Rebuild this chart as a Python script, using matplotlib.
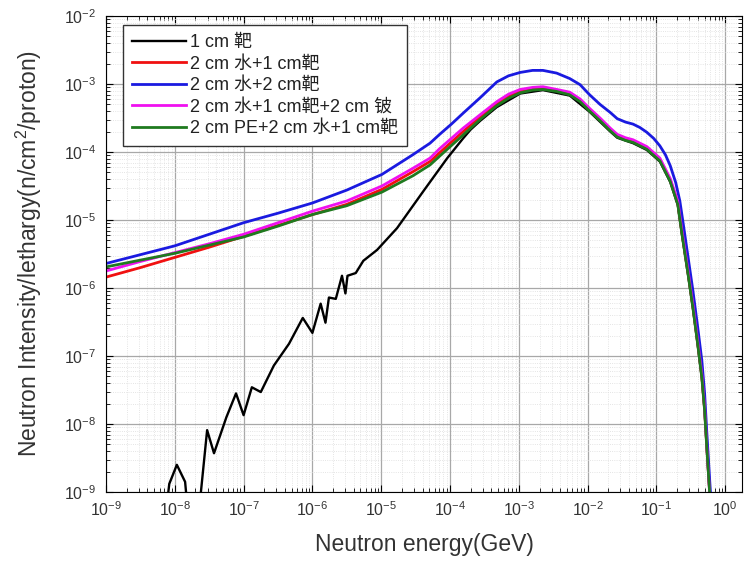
import numpy as np
import matplotlib
matplotlib.use('Agg')
import matplotlib.pyplot as plt
from matplotlib.ticker import LogLocator, NullFormatter

plt.rcParams['font.family'] = ['Liberation Sans', 'Noto Sans CJK SC', 'DejaVu Sans']
plt.rcParams['mathtext.fontset'] = 'custom'
plt.rcParams['mathtext.rm'] = 'Liberation Sans'
plt.rcParams['mathtext.default'] = 'regular'

# curves: log10(energy / GeV) and log10(intensity)
log_e_black = [-8.14, -8.08, -7.97, -7.85, -7.80, -7.66, -7.53, -7.43, -7.25, -7.11,
               -7.00, -6.88, -6.75, -6.56, -6.34, -6.14, -6.00, -5.88, -5.81, -5.76,
               -5.66, -5.57, -5.52, -5.49, -5.37, -5.26, -5.06, -4.77, -4.39, -4.04,
               -3.81, -3.70, -3.56, -3.32, -2.98, -2.65, -2.26, -1.97, -1.67, -1.57,
               -1.34, -1.14, -0.95, -0.80, -0.69, -0.63, -0.54, -0.47, -0.40, -0.34,
               -0.30, -0.27, -0.22, -0.19]
log_i_black = [-9.40, -8.88, -8.60, -8.85, -9.40, -9.40, -8.09, -8.43, -7.90, -7.55,
               -7.87, -7.46, -7.53, -7.14, -6.82, -6.44, -6.66, -6.23, -6.51, -6.14,
               -6.16, -5.82, -6.08, -5.82, -5.78, -5.60, -5.44, -5.12, -4.58, -4.09,
               -3.80, -3.67, -3.54, -3.34, -3.14, -3.09, -3.17, -3.41, -3.70, -3.79,
               -3.87, -3.97, -4.14, -4.44, -4.78, -5.21, -5.81, -6.30, -6.84, -7.33,
               -7.81, -8.33, -9.13, -9.40]

log_e_red = [-9.00, -8.50, -8.00, -7.50, -7.00, -6.50, -6.00, -5.50, -4.99, -4.54,
             -4.29, -4.15, -3.81, -3.56, -3.32, -3.15, -2.98, -2.80, -2.65, -2.45,
             -2.26, -2.11, -1.97, -1.82, -1.67, -1.57, -1.45, -1.34, -1.14, -0.95,
             -0.80, -0.69, -0.63, -0.54, -0.47, -0.40, -0.34, -0.30, -0.27, -0.22,
             -0.19]
log_i_red = [-5.84, -5.70, -5.55, -5.40, -5.24, -5.08, -4.92, -4.77, -4.55, -4.29,
             -4.14, -4.01, -3.70, -3.48, -3.29, -3.18, -3.11, -3.07, -3.06, -3.09,
             -3.14, -3.24, -3.38, -3.52, -3.67, -3.76, -3.81, -3.84, -3.94, -4.11,
             -4.41, -4.75, -5.18, -5.78, -6.27, -6.81, -7.30, -7.78, -8.30, -9.10,
             -9.40]

log_e_blue = [-9.00, -8.50, -8.00, -7.50, -7.00, -6.50, -6.00, -5.50, -4.99, -4.54,
              -4.29, -4.15, -3.98, -3.81, -3.56, -3.32, -3.15, -2.98, -2.80, -2.65,
              -2.45, -2.26, -2.11, -1.97, -1.82, -1.67, -1.57, -1.45, -1.34, -1.24,
              -1.14, -1.04, -0.95, -0.87, -0.80, -0.72, -0.66, -0.61, -0.54, -0.47,
              -0.40, -0.34, -0.30, -0.27, -0.22, -0.19]
log_i_blue = [-5.64, -5.51, -5.38, -5.21, -5.04, -4.90, -4.75, -4.56, -4.33, -4.04,
              -3.87, -3.74, -3.59, -3.43, -3.20, -2.97, -2.88, -2.83, -2.80, -2.80,
              -2.84, -2.92, -3.01, -3.16, -3.30, -3.42, -3.51, -3.56, -3.59, -3.64,
              -3.71, -3.80, -3.91, -4.04, -4.20, -4.45, -4.72, -5.06, -5.55, -6.04,
              -6.58, -7.07, -7.55, -8.09, -8.93, -9.40]

log_e_magenta = [-9.00, -8.50, -8.00, -7.50, -7.00, -6.50, -6.00, -5.50, -4.99, -4.54,
                 -4.29, -4.15, -3.81, -3.56, -3.32, -3.15, -2.98, -2.80, -2.65, -2.45,
                 -2.26, -2.11, -1.97, -1.82, -1.67, -1.57, -1.45, -1.34, -1.14, -0.95,
                 -0.80, -0.69, -0.63, -0.54, -0.47, -0.40, -0.34, -0.30, -0.27, -0.22,
                 -0.19]
log_i_magenta = [-5.75, -5.61, -5.48, -5.35, -5.21, -5.04, -4.87, -4.72, -4.50, -4.24,
                 -4.09, -3.95, -3.65, -3.45, -3.26, -3.15, -3.08, -3.05, -3.04, -3.08,
                 -3.12, -3.22, -3.36, -3.50, -3.65, -3.74, -3.79, -3.82, -3.92, -4.09,
                 -4.39, -4.72, -5.15, -5.75, -6.24, -6.78, -7.27, -7.75, -8.29, -9.13,
                 -9.40]

log_e_green = [-9.00, -8.50, -8.00, -7.50, -7.00, -6.50, -6.00, -5.50, -4.99, -4.54,
               -4.29, -4.15, -3.81, -3.56, -3.32, -3.15, -2.98, -2.80, -2.65, -2.45,
               -2.26, -2.11, -1.97, -1.82, -1.67, -1.57, -1.45, -1.34, -1.14, -0.95,
               -0.80, -0.69, -0.63, -0.54, -0.47, -0.40, -0.34, -0.30, -0.27, -0.22,
               -0.19]
log_i_green = [-5.69, -5.59, -5.49, -5.37, -5.25, -5.09, -4.92, -4.79, -4.59, -4.35,
               -4.19, -4.06, -3.75, -3.52, -3.32, -3.21, -3.13, -3.09, -3.08, -3.11,
               -3.16, -3.26, -3.40, -3.54, -3.69, -3.78, -3.83, -3.86, -3.96, -4.13,
               -4.43, -4.77, -5.20, -5.80, -6.29, -6.83, -7.32, -7.80, -8.32, -9.12,
               -9.40]

labels = ['1 cm 靶', '2 cm 水+1 cm靶', '2 cm 水+2 cm靶',
          '2 cm 水+1 cm靶+2 cm 铍', '2 cm PE+2 cm 水+1 cm靶']

series = [
    (log_e_black, log_i_black, '#000000', 1.7),
    (log_e_red, log_i_red, '#f01010', 2.0),
    (log_e_blue, log_i_blue, '#1a1ae0', 2.0),
    (log_e_magenta, log_i_magenta, '#f010f0', 2.0),
    (log_e_green, log_i_green, '#1f7a1f', 2.0),
]

fig = plt.figure(figsize=(7.5, 5.69), dpi=100)
ax = fig.add_axes([0.1413, 0.1353, 0.848, 0.8366])

for (le, li, c, lw), lab in zip(series, labels):
    ax.plot(10 ** np.array(le), 10 ** np.array(li), color=c, lw=lw, label=lab)

ax.set_xscale('log')
ax.set_yscale('log')
ax.set_xlim(1e-9, 1.75)
ax.set_ylim(1e-9, 1e-2)

ax.xaxis.set_major_locator(LogLocator(base=10, numticks=20))
ax.yaxis.set_major_locator(LogLocator(base=10, numticks=20))
ax.xaxis.set_minor_locator(LogLocator(base=10, subs=np.arange(2, 10), numticks=20))
ax.yaxis.set_minor_locator(LogLocator(base=10, subs=np.arange(2, 10), numticks=20))
ax.xaxis.set_minor_formatter(NullFormatter())
ax.yaxis.set_minor_formatter(NullFormatter())

ax.grid(which='major', color='#a8a8a8', lw=0.9)
ax.grid(which='minor', color='#dcdcdc', lw=0.6, ls=':')
ax.set_axisbelow(True)

ax.tick_params(which='both', direction='in', top=True, right=True,
               labelsize=11.5, labelcolor='#333333')
ax.tick_params(which='major', length=5, width=0.8)
ax.tick_params(which='minor', length=3, width=0.6)
ax.tick_params(axis='x', pad=6)
ax.tick_params(axis='y', pad=7)

ax.set_xlabel('Neutron energy(GeV)', fontsize=16.5, color='#333333', labelpad=10)
ax.set_ylabel('Neutron Intensity/lethargy(n/cm$^2$/proton)', fontsize=16.5,
              color='#333333', labelpad=14)

leg = ax.legend(loc='upper left', bbox_to_anchor=(0.027, 0.981), borderaxespad=0,
                fontsize=13, frameon=True, fancybox=False, edgecolor='#333333',
                framealpha=1, handlelength=3.0, handletextpad=0.2,
                labelspacing=0.25, borderpad=0.5)
leg.get_frame().set_linewidth(1.0)
for t in leg.get_texts():
    t.set_color('#222222')

fig.savefig('out.png', dpi=100)
